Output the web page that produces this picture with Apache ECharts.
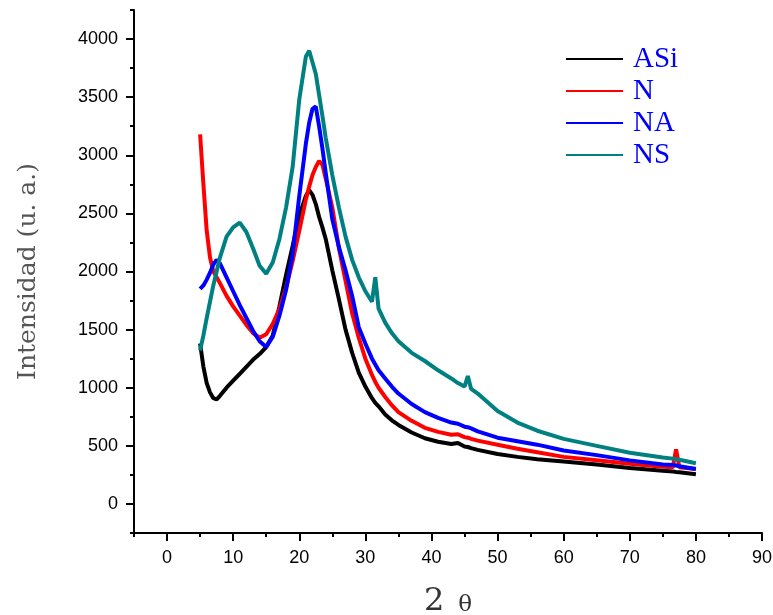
<!DOCTYPE html>
<html>
<head>
<meta charset="utf-8">
<script src="https://cdn.jsdelivr.net/npm/echarts@6/dist/echarts.min.js"></script>
<style>
html,body{margin:0;padding:0;background:#fff;}
#chart{width:773px;height:615px;}
</style>
</head>
<body>
<div id="chart"></div>
<script>
// 2θ sampling positions (degrees)
var twoTheta = [5,5.5,6,6.5,7,7.5,8,9,10,11,12,13,14,15,16,17,18,19,20,21,21.5,22,22.5,23,23.5,24,25,26,27,28,29,30,31,31.5,32,33,34,35,37,39,41,43,44,45,45.5,46,47,50,53,56,60,65,70,75,76.5,77,77.5,80];

var seriesNames = ['ASi','N','NA','NS'];

var yASi = [1380,1180,1040,960,910,900,930,1000,1060,1120,1180,1240,1290,1350,1450,1700,1970,2220,2480,2650,2700,2660,2580,2470,2380,2280,2010,1760,1500,1300,1130,1010,910,870,840,770,720,680,615,565,535,515,525,495,490,480,465,430,405,385,365,340,310,285,280,275,272,255];

var yN = [3180,2750,2350,2120,2000,1950,1900,1790,1700,1620,1540,1470,1430,1460,1550,1680,1860,2090,2350,2620,2730,2830,2900,2950,2920,2800,2550,2200,1920,1640,1430,1250,1110,1050,1000,920,850,790,715,655,620,595,600,575,570,560,545,510,475,445,405,375,345,320,315,470,315,300];

var yNA = [1850,1880,1930,1990,2060,2100,2070,1950,1830,1710,1600,1490,1400,1350,1440,1620,1840,2150,2650,3100,3280,3400,3420,3250,3060,2850,2450,2210,2010,1790,1520,1380,1250,1200,1150,1080,1010,950,860,790,740,700,690,665,660,650,625,570,540,510,460,420,375,340,335,330,325,300];

var yNS = [1320,1450,1600,1740,1880,2000,2120,2300,2380,2420,2340,2200,2050,1980,2080,2280,2550,2900,3480,3850,3900,3800,3700,3520,3340,3150,2830,2550,2300,2100,1950,1830,1740,1950,1680,1560,1470,1400,1300,1230,1150,1080,1040,1010,1100,990,950,800,700,630,560,500,440,400,390,385,380,350];

var xTickValues = [0,10,20,30,40,50,60,70,80,90];
var yTickValues = [0,500,1000,1500,2000,2500,3000,3500,4000];

var colors = ['#000000','#ff0000','#0000ff','#008080'];
var allY = [yASi, yN, yNA, yNS];

function pairs(ys){ return twoTheta.map(function(x,i){ return [x, ys[i]]; }); }

var axisLineStyle = {color:'#000', width:2};
var labelFont = 'Liberation Sans, Arial, sans-serif';
function plain(v){ return String(v); }

var chart = echarts.init(document.getElementById('chart'), null, {renderer:'canvas'});
chart.setOption({
  animation:false,
  backgroundColor:'#fff',
  grid:{left:134, right:11, top:10, bottom:82, containLabel:false, outerBoundsMode:'none'},
  legend:{
    orient:'vertical', left:566, top:44, padding:0, itemGap:2,
    itemWidth:57, itemHeight:2, icon:'rect',
    data:seriesNames,
    textStyle:{color:'#0000ff', fontFamily:'Liberation Serif, Times New Roman, serif', fontSize:29, lineHeight:30, padding:[0,0,0,5]}
  },
  xAxis:[
    {type:'value', min:-5, max:90, position:'bottom',
     axisLine:{show:true, onZero:false, lineStyle:axisLineStyle},
     axisTick:{show:true, customValues:xTickValues, length:8, lineStyle:{color:'#000', width:2}},
     axisLabel:{show:true, customValues:xTickValues, margin:16, color:'#000', fontFamily:labelFont, fontSize:18, formatter:plain},
     splitLine:{show:false},
     name:'{a|2}{b|θ}', nameLocation:'middle', nameGap:53,
     nameTextStyle:{rich:{a:{fontFamily:'DejaVu Serif, serif', fontSize:32, color:'#333'}, b:{fontFamily:'DejaVu Serif, serif', fontSize:23, color:'#333', padding:[6,0,0,14]}}}
    },
    {type:'value', min:-5, max:90, interval:10, position:'bottom',
     axisLine:{show:false, onZero:false}, axisTick:{show:true, length:4, lineStyle:{color:'#000', width:2}},
     axisLabel:{show:false}, splitLine:{show:false}}
  ],
  yAxis:[
    {type:'value', min:-250, max:4250, position:'left',
     axisLine:{show:true, onZero:false, lineStyle:axisLineStyle},
     axisTick:{show:true, customValues:yTickValues, length:8, lineStyle:{color:'#000', width:2}},
     axisLabel:{show:true, customValues:yTickValues, margin:16, color:'#000', fontFamily:labelFont, fontSize:18, formatter:plain},
     splitLine:{show:false},
     name:'Intensidad (u. a.)', nameLocation:'middle', nameGap:93, nameRotate:90,
     nameTextStyle:{fontFamily:'DejaVu Serif, serif', fontSize:25, color:'#555'}
    },
    {type:'value', min:-250, max:4250, interval:500, position:'left',
     axisLine:{show:false, onZero:false}, axisTick:{show:true, length:4, lineStyle:{color:'#000', width:2}},
     axisLabel:{show:false}, splitLine:{show:false}}
  ],
  series: seriesNames.map(function(n,i){
    return {name:n, type:'line', xAxisIndex:0, yAxisIndex:0, showSymbol:false, symbol:'none',
      data:pairs(allY[i]), lineStyle:{color:colors[i], width:4}, itemStyle:{color:colors[i]}};
  })
});
</script>
</body>
</html>
